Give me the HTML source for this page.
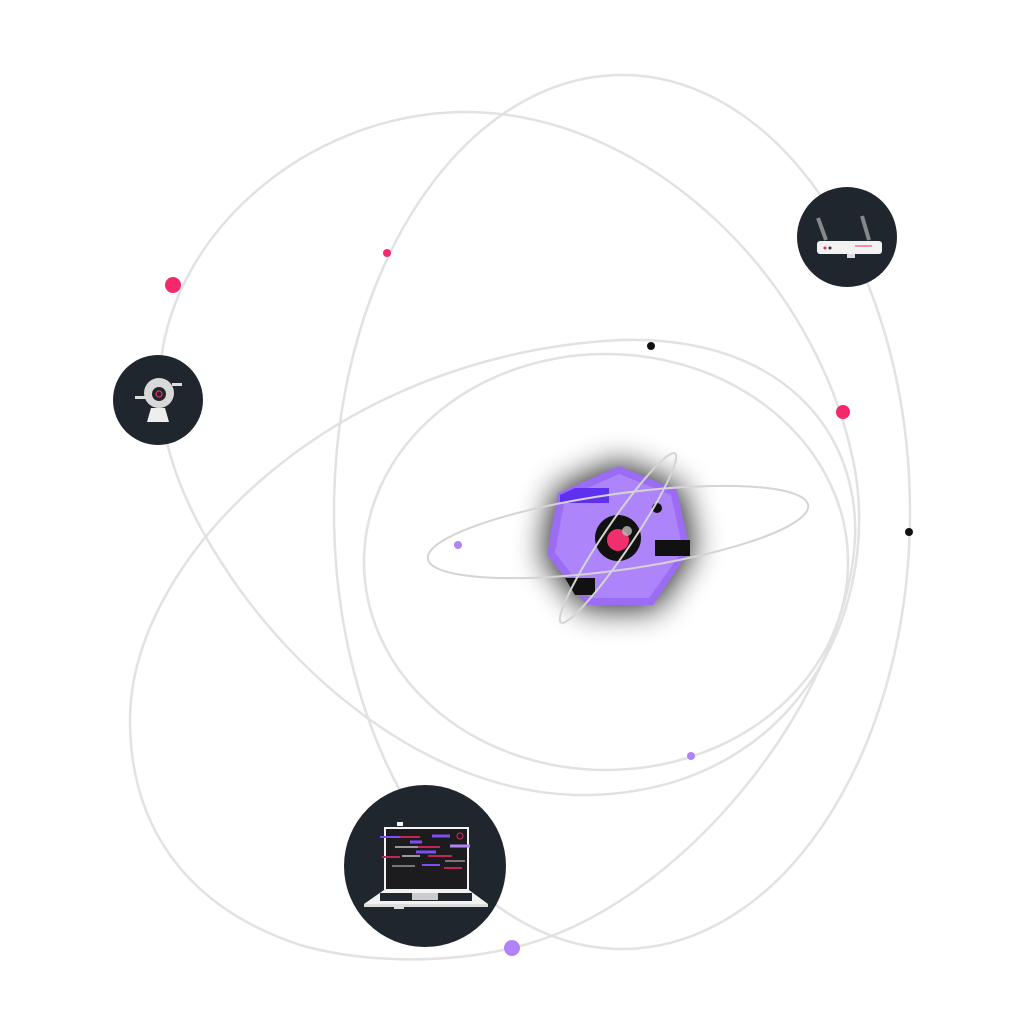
<!DOCTYPE html>
<html><head><meta charset="utf-8"><style>html,body{margin:0;padding:0;background:#fff}svg{display:block}</style></head>
<body>
<svg width="1024" height="1011" viewBox="0 0 1024 1011" xmlns="http://www.w3.org/2000/svg">
<defs>
<filter id="blur" x="-50%" y="-50%" width="200%" height="200%"><feGaussianBlur stdDeviation="16"/></filter>
</defs>
<g fill="none" stroke="#e2e2e2" stroke-width="2.5">
<ellipse cx="606" cy="562" rx="242" ry="208"/>
<ellipse cx="622" cy="512" rx="288" ry="437"/>
<path d="M160,400 C150,250 300,110 470,112 C650,115 820,280 855,470 C880,620 790,790 590,795 C450,798 320,700 240,590 C190,520 165,460 160,400 Z"/>
<path d="M130,720 C130,560 330,355 620,340 C780,335 860,430 855,540 C845,700 680,910 512,948 C440,965 360,962 300,945 C180,905 130,820 130,720 Z"/>
</g>
<polygon points="619,462 681,488 694,550 655,609 585,609 543,557 555,491" fill="#000" opacity="0.85" filter="url(#blur)"/>
<polygon points="619,466 677,490 690,550 653,605 587,605 547,555 558,493" fill="#9b6df5"/>
<polygon points="619,474 671,495 683,550 649,598 590,598 555,553 565,498" fill="#ae84fb"/>
<polygon points="560,495 575,488 609,488 609,503 560,503" fill="#6030f0"/>
<circle cx="657" cy="508" r="5" fill="#111"/>
<circle cx="618" cy="538" r="23" fill="#111"/>
<circle cx="618" cy="540" r="11" fill="#f0306e"/>
<circle cx="627" cy="531" r="5" fill="#bbb" opacity="0.8"/>
<rect x="655" y="540" width="35" height="16" fill="#111"/>
<polygon points="565,578 595,578 595,595 575,595" fill="#111"/>
<g fill="none" stroke="#d4d4d4" stroke-width="2">
<ellipse cx="618" cy="532" rx="192" ry="38" transform="rotate(-8 618 532)"/>
<ellipse cx="618" cy="538" rx="102" ry="14" transform="rotate(-56 618 538)"/>
</g>
<circle cx="173" cy="285" r="8" fill="#f5296a"/>
<circle cx="387" cy="253" r="4" fill="#f5296a"/>
<circle cx="651" cy="346" r="4" fill="#111"/>
<circle cx="843" cy="412" r="7" fill="#f5296a"/>
<circle cx="909" cy="532" r="4" fill="#111"/>
<circle cx="458" cy="545" r="4" fill="#b084f7"/>
<circle cx="691" cy="756" r="4" fill="#b084f7"/>
<circle cx="512" cy="948" r="8" fill="#b084f7"/>
<circle cx="158" cy="400" r="45" fill="#1f262d"/>
<polygon points="147,422 169,422 165,408 151,408" fill="#eee"/>
<circle cx="159" cy="393" r="15" fill="#d8d8d8"/>
<circle cx="159" cy="394" r="7" fill="#1f262d"/>
<circle cx="159" cy="394" r="3" fill="none" stroke="#f5296a" stroke-width="1.2"/>
<rect x="135" y="396" width="12" height="3" fill="#ddd"/>
<rect x="172" y="383" width="10" height="3" fill="#ddd"/>
<circle cx="847" cy="237" r="50" fill="#1f262d"/>
<rect x="817" y="241" width="65" height="13" rx="3" fill="#f2f2f2"/>
<line x1="818" y1="218" x2="826" y2="240" stroke="#888" stroke-width="4"/>
<line x1="862" y1="216" x2="869" y2="240" stroke="#888" stroke-width="4"/>
<rect x="847" y="254" width="8" height="4" fill="#ddd"/>
<circle cx="825" cy="248" r="1.5" fill="#f5296a"/><circle cx="830" cy="248" r="1.5" fill="#333"/>
<line x1="855" y1="246" x2="872" y2="246" stroke="#f5296a" stroke-width="1"/>
<circle cx="425" cy="866" r="81" fill="#1f262d"/>
<rect x="384" y="827" width="85" height="63" fill="#f2f2f2"/>
<rect x="386" y="829" width="81" height="60" fill="#1c1c1e"/>
<polygon points="384,890 469,890 488,904 364,904" fill="#f2f2f2"/>
<rect x="364" y="904" width="124" height="3" fill="#ddd"/>
<rect x="380" y="893" width="92" height="8" fill="#1f262d"/>
<rect x="412" y="893" width="26" height="7" fill="#ccc"/>
<rect x="397" y="822" width="6" height="4" fill="#f2f2f2"/>
<rect x="394" y="906" width="10" height="3" fill="#ddd"/>
<g stroke-width="2">
<line x1="380" y1="837" x2="400" y2="837" stroke="#7b4ff5"/><line x1="400" y1="837" x2="420" y2="837" stroke="#c0265a"/>
<line x1="432" y1="836" x2="450" y2="836" stroke="#7b4ff5" stroke-width="3"/>
<line x1="395" y1="847" x2="418" y2="847" stroke="#999"/><line x1="418" y1="847" x2="440" y2="847" stroke="#c0265a"/>
<line x1="410" y1="842" x2="422" y2="842" stroke="#7b4ff5" stroke-width="3"/>
<line x1="450" y1="846" x2="470" y2="846" stroke="#b084f7" stroke-width="3"/>
<line x1="416" y1="852" x2="436" y2="852" stroke="#7b4ff5" stroke-width="3"/>
<line x1="382" y1="857" x2="400" y2="857" stroke="#c0265a"/><line x1="402" y1="856" x2="420" y2="856" stroke="#999"/>
<line x1="428" y1="856" x2="452" y2="856" stroke="#c0265a"/>
<line x1="392" y1="866" x2="415" y2="866" stroke="#777"/><line x1="422" y1="865" x2="440" y2="865" stroke="#7b4ff5"/>
<line x1="445" y1="861" x2="465" y2="861" stroke="#777"/>
<line x1="444" y1="868" x2="462" y2="868" stroke="#c0265a"/>
</g>
<circle cx="460" cy="836" r="3" fill="none" stroke="#c0265a" stroke-width="1.2"/>
</svg>
</body></html>
